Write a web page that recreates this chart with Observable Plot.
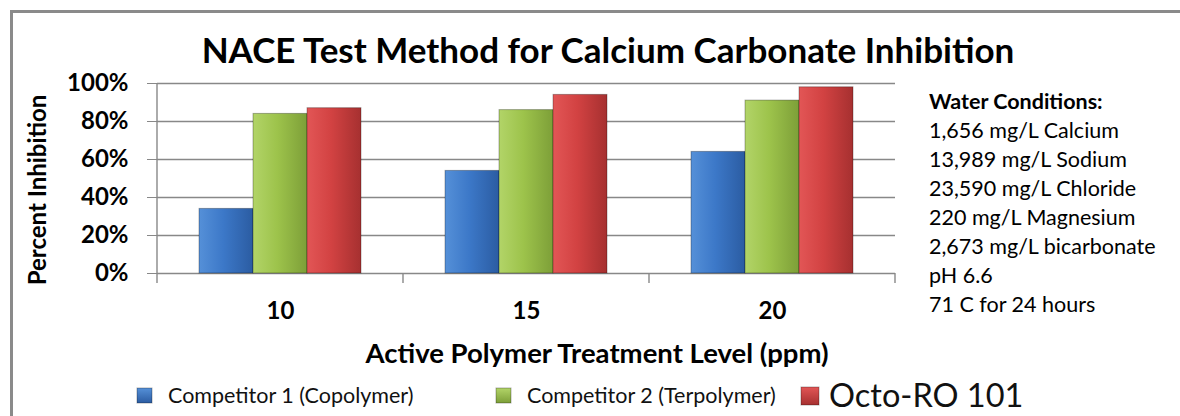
<!DOCTYPE html>
<html><head><meta charset="utf-8">
<script src="https://cdn.jsdelivr.net/npm/d3@7"></script>
<script src="https://cdn.jsdelivr.net/npm/@observablehq/plot@0.6"></script>
<style>
html,body{margin:0;padding:0;background:#fff;}
#wrap{position:relative;width:1180px;height:416px;overflow:hidden;font-family:Lato,"Open Sans",sans-serif;color:#000;}
#border{position:absolute;left:10px;top:10px;width:1300px;height:600px;border-left:3px solid #8a8a8a;border-top:3px solid #8a8a8a;box-sizing:border-box;}
#chart{position:absolute;left:0;top:0;}
#overlay{position:absolute;left:0;top:0;pointer-events:none;}
</style>
</head><body>
<div id="wrap">
  <div id="border"></div>
  <div id="chart"></div>
  <svg id="overlay" width="1180" height="416" font-family="Lato, 'Open Sans', sans-serif">
    <text x="608" y="63" text-anchor="middle" font-size="35" font-weight="bold">NACE Test Method for Calcium Carbonate Inhibition</text>
    <text transform="translate(46,190) rotate(-90)" text-anchor="middle" font-size="24" font-weight="bold">Percent Inhibition</text>
    <text x="597" y="363" text-anchor="middle" font-size="27.5" font-weight="bold">Active Polymer Treatment Level (ppm)</text>
    <g id="conditions" font-size="21.5"></g>
    <g id="legend"></g>
  </svg>
</div>
<script>
// ---- data ----
const categories = ["10", "15", "20"];
const seriesNames = ["Competitor 1 (Copolymer)", "Competitor 2 (Terpolymer)", "Octo-RO 101"];
const competitor1 = [0.34, 0.54, 0.64];
const competitor2 = [0.84, 0.86, 0.91];
const octoRO101 = [0.87, 0.94, 0.98];
const yTicks = [0, 0.2, 0.4, 0.6, 0.8, 1.0];
const conditionsTitle = "Water Conditions:";
const conditions = ["1,656 mg/L Calcium", "13,989 mg/L Sodium", "23,590 mg/L Chloride", "220 mg/L Magnesium", "2,673 mg/L bicarbonate", "pH 6.6", "71 C for 24 hours"];
const gradIds = ["gBlue", "gGreen", "gRed"];
const gradStops = [
  ["#5590d8", "#3c78c8", "#2b5ca2"],
  ["#b2d468", "#9dc34b", "#7d9f38"],
  ["#e25656", "#d24242", "#a63030"]
];

const data = [];
[competitor1, competitor2, octoRO101].forEach((vals, s) =>
  vals.forEach((v, i) => data.push({ppm: categories[i], series: seriesNames[s], value: v})));

const plot = Plot.plot({
  width: 1180, height: 416,
  marginLeft: 157, marginRight: 285, marginTop: 83, marginBottom: 143,
  style: {fontFamily: "Lato, 'Open Sans', sans-serif", background: "transparent", overflow: "visible", color: "#000"},
  fx: {domain: categories, padding: 0, label: null},
  x: {domain: seriesNames, paddingInner: 0, paddingOuter: 0.75, axis: null},
  y: {domain: [0, 1], label: null},
  color: {domain: seriesNames, range: gradIds.map(id => `url(#${id})`)},
  marks: [
    Plot.ruleY(yTicks, {stroke: "#888888", strokeWidth: 1.4}),
    Plot.barY(data, {fx: "ppm", x: "series", y: "value", fill: "series", stroke: "rgba(0,0,0,0.3)", strokeWidth: 1}),
    Plot.axisY({ticks: yTicks, tickFormat: d3.format(".0%"), tickSize: 10, tickPadding: 19, stroke: "#888888", fontSize: 24, fontWeight: "bold", fill: "#000", label: null}),
    Plot.axisFx({anchor: "bottom", tickSize: 0, tickPadding: 28, fontSize: 24, fontWeight: "bold", fill: "#000", label: null})
  ]
});
document.getElementById("chart").appendChild(plot);

const svg = d3.select(plot);
const defs = svg.insert("defs", ":first-child");
gradIds.forEach((id, i) => {
  const g = defs.append("linearGradient").attr("id", id).attr("x1", "0").attr("x2", "1").attr("y1", "0").attr("y2", "0");
  g.append("stop").attr("offset", "0%").attr("stop-color", gradStops[i][0]);
  g.append("stop").attr("offset", "45%").attr("stop-color", gradStops[i][1]);
  g.append("stop").attr("offset", "100%").attr("stop-color", gradStops[i][2]);
});

// category boundary ticks and left axis line, from the fx and y scales
const fx = plot.scale("fx");
const ys = plot.scale("y");
const y0 = ys.apply(0), y1 = ys.apply(1);
const bounds = categories.map(c => fx.apply(c));
bounds.push(fx.apply(categories[categories.length - 1]) + fx.bandwidth);
const axG = svg.append("g").attr("stroke", "#888888").attr("stroke-width", 1.4);
axG.selectAll("line").data(bounds).join("line")
  .attr("x1", d => d).attr("x2", d => d).attr("y1", (d, i) => i === 0 ? y1 : y0).attr("y2", y0 + 10);

// overlay: conditions and legend
const ov = d3.select("#overlay");
ov.append("defs").selectAll("linearGradient").data(gradIds).join("linearGradient")
  .attr("id", d => d + "L").attr("x1", 0).attr("x2", 0).attr("y1", 0).attr("y2", 1)
  .each(function(d, i) {
    d3.select(this).append("stop").attr("offset", "0%").attr("stop-color", gradStops[i][0]);
    d3.select(this).append("stop").attr("offset", "100%").attr("stop-color", gradStops[i][2]);
  });
const cond = d3.select("#conditions");
cond.append("text").attr("x", 929).attr("y", 109).attr("font-weight", "bold").text(conditionsTitle);
conditions.forEach((t, i) => cond.append("text").attr("x", 929).attr("y", 109 + 29 * (i + 1)).text(t));

const legendX = [137, 496, 801];
const leg = d3.select("#legend");
seriesNames.forEach((s, i) => {
  const big = i === 2;
  leg.append("rect").attr("x", legendX[i]).attr("y", big ? 387 : 388).attr("width", big ? 18 : 15).attr("height", big ? 18 : 15)
    .attr("fill", `url(#${gradIds[i]}L)`).attr("stroke", "rgba(0,0,0,0.3)");
  leg.append("text").attr("x", legendX[i] + (big ? 28 : 31)).attr("y", big ? 407 : 403)
    .attr("font-size", big ? 32.5 : 21.5).attr("fill", "#111").text(s);
});
</script>
</body></html>
